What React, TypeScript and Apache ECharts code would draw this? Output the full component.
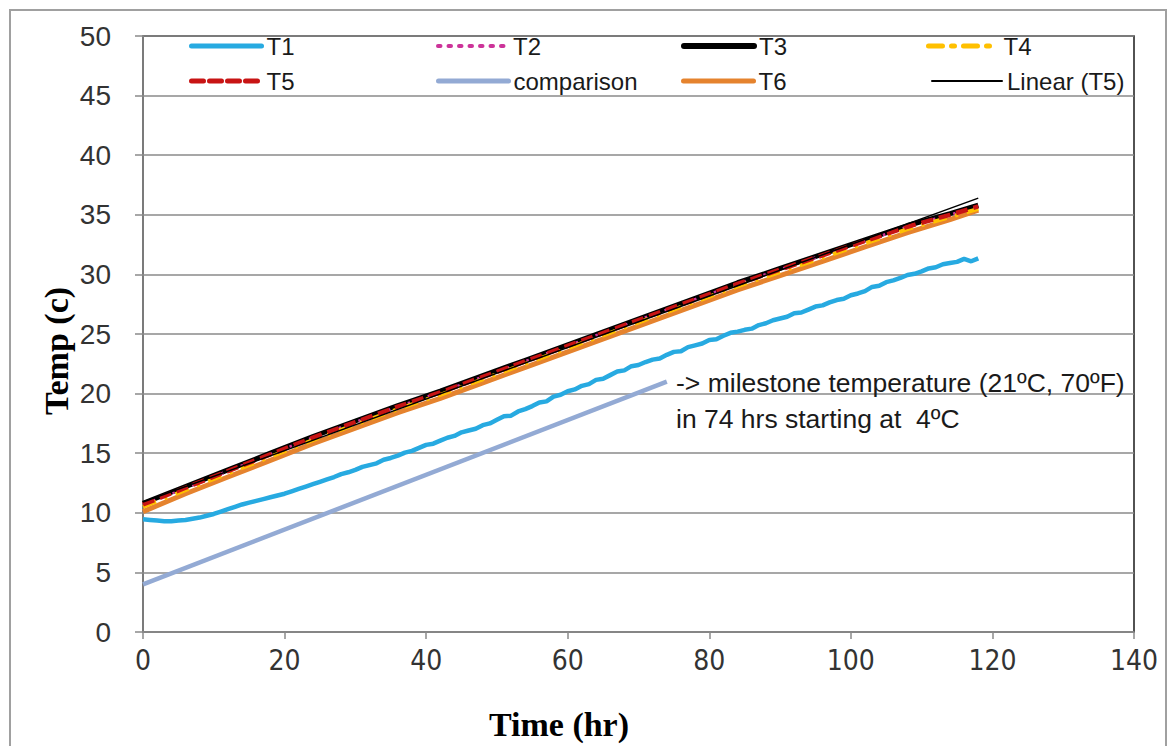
import React, { useEffect, useRef } from "react";
import * as echarts from "echarts";

// ---- Data ----
const X_TICKS = [0, 20, 40, 60, 80, 100, 120, 140];
const Y_TICKS = [0, 5, 10, 15, 20, 25, 30, 35, 40, 45, 50];

// T1: hourly readings, hour 0..118
const T1_VALUES = [
  9.45, 9.4, 9.35, 9.3, 9.3, 9.35, 9.4, 9.5, 9.6, 9.75,
  9.9, 10.1, 10.3, 10.5, 10.7, 10.85, 11.0, 11.15, 11.3, 11.45,
  11.6, 11.8, 12.0, 12.2, 12.4, 12.6, 12.8, 13.0, 13.25, 13.4,
  13.6, 13.85, 14.0, 14.15, 14.45, 14.6, 14.8, 15.05, 15.2, 15.45,
  15.7, 15.8, 16.05, 16.3, 16.45, 16.75, 16.9, 17.05, 17.35, 17.5,
  17.8, 18.1, 18.15, 18.5, 18.7, 18.95, 19.25, 19.35, 19.75, 19.9,
  20.2, 20.35, 20.65, 20.8, 21.15, 21.25, 21.55, 21.85, 21.95, 22.3,
  22.4, 22.65, 22.85, 22.95, 23.25, 23.5, 23.55, 23.9, 24.05, 24.2,
  24.5, 24.55, 24.85, 25.1, 25.2, 25.35, 25.45, 25.75, 25.9, 26.15,
  26.3, 26.45, 26.75, 26.8, 27.05, 27.3, 27.4, 27.65, 27.85, 27.95,
  28.25, 28.4, 28.6, 28.95, 29.05, 29.35, 29.5, 29.7, 29.95, 30.05,
  30.25, 30.5, 30.6, 30.85, 30.95, 31.05, 31.3, 31.1, 31.35,
];

// Other sensors sampled every 6 hours (last at 118 h)
const HOURS_6 = [0, 6, 12, 18, 24, 30, 36, 42, 48, 54, 60, 66, 72, 78, 84, 90, 96, 102, 108, 114, 118];
const T2_VALUES = [10.7, 12.1, 13.5, 14.9, 16.3, 17.6, 18.9, 20.1, 21.4, 22.7, 24.0, 25.3, 26.6, 27.9, 29.2, 30.4, 31.6, 32.8, 34.0, 35.0, 35.7];
const T3_VALUES = [10.8, 12.2, 13.6, 15.0, 16.4, 17.7, 19.0, 20.2, 21.5, 22.8, 24.1, 25.4, 26.7, 28.0, 29.3, 30.5, 31.7, 32.9, 34.1, 35.1, 35.8];
const T4_VALUES = [10.5, 11.9, 13.3, 14.7, 16.1, 17.4, 18.7, 19.9, 21.2, 22.5, 23.8, 25.1, 26.4, 27.7, 29.0, 30.2, 31.4, 32.6, 33.8, 34.8, 35.5];
const T5_VALUES = [10.7, 12.1, 13.5, 14.9, 16.3, 17.6, 18.9, 20.1, 21.4, 22.7, 24.0, 25.3, 26.6, 27.9, 29.2, 30.4, 31.6, 32.8, 34.0, 35.0, 35.7];
const T6_VALUES = [10.1, 11.6, 13.0, 14.4, 15.8, 17.1, 18.4, 19.6, 20.9, 22.2, 23.5, 24.8, 26.1, 27.4, 28.7, 29.9, 31.1, 32.3, 33.5, 34.6, 35.4];

const COMPARISON = [
  [0, 4],
  [74, 21],
];
const LINEAR_T5 = [
  [0, 10.9],
  [118, 36.4],
];

const pair = (xs: number[], ys: number[]) => xs.map((x, i) => [x, ys[i]]);
const hourly = (ys: number[]) => ys.map((y, i) => [i, y]);

export default function App() {
  const ref = useRef<HTMLDivElement>(null);

  useEffect(() => {
    if (!ref.current) return;
    const chart = echarts.init(ref.current, undefined, { renderer: "svg" });

    const legendText = {
      fontSize: 24,
      fontFamily: "Liberation Sans, Arial, sans-serif",
      color: "#1a1a1a",
    };
    const mkLegend = (name: string, left: number, top: number, width: number) => ({
      data: [name],
      left,
      top,
      orient: "horizontal",
      padding: 0,
      itemWidth: 70,
      itemHeight: 14,
      textStyle: legendText,
      selectedMode: false,
      itemStyle: { opacity: 0, borderWidth: 0 },
      lineStyle: { width, cap: "round" },
    });

    const titleFont = "bold 34px 'Liberation Serif', 'Times New Roman', serif";

    const option: any = {
      animation: false,
      backgroundColor: "#ffffff",
      grid: {
        left: 143,
        right: 35,
        top: 36,
        bottom: 114,
        show: true,
        borderColor: "#1a1a1a",
        borderWidth: 1.5,
        backgroundColor: "#ffffff",
      },
      legend: [
        mkLegend("T1", 189, 34, 5),
        mkLegend("T2", 436, 34, 4),
        mkLegend("T3", 681, 34, 6),
        mkLegend("T4", 926, 34, 5),
        mkLegend("T5", 189, 69, 5),
        mkLegend("comparison", 436, 69, 5),
        mkLegend("T6", 681, 69, 5),
        mkLegend("Linear (T5)", 931, 69, 2),
      ],
      xAxis: {
        type: "value",
        min: X_TICKS[0],
        max: X_TICKS[X_TICKS.length - 1],
        interval: 20,
        axisLine: { show: true, lineStyle: { color: "#8a8a8a", width: 1.5 } },
        axisTick: { show: true, length: 7, lineStyle: { color: "#8a8a8a", width: 1.5 } },
        splitLine: { show: false },
        axisLabel: {
          margin: 14,
          fontSize: 28,
          fontFamily: "Liberation Sans Narrow, DejaVu Sans Condensed, sans-serif",
          color: "#333",
        },
      },
      yAxis: {
        type: "value",
        min: Y_TICKS[0],
        max: Y_TICKS[Y_TICKS.length - 1],
        interval: 5,
        axisLine: { show: true, lineStyle: { color: "#8a8a8a", width: 1.5 } },
        axisTick: { show: true, length: 8, lineStyle: { color: "#8a8a8a", width: 1.5 } },
        splitLine: { show: true, lineStyle: { color: "#8a8a8a", width: 1.5 } },
        axisLabel: {
          margin: 32,
          fontSize: 28,
          fontFamily: "Liberation Sans, Arial, sans-serif",
          color: "#333",
        },
      },
      series: [
        {
          name: "comparison",
          type: "line",
          data: COMPARISON,
          symbol: "none",
          z: 2,
          lineStyle: { color: "#93aad4", width: 4.5 },
          itemStyle: { color: "#93aad4" },
        },
        {
          name: "T1",
          type: "line",
          data: hourly(T1_VALUES),
          symbol: "none",
          z: 3,
          lineStyle: { color: "#27aae1", width: 4.5 },
          itemStyle: { color: "#27aae1" },
        },
        {
          name: "T6",
          type: "line",
          data: pair(HOURS_6, T6_VALUES),
          symbol: "none",
          z: 4,
          lineStyle: { color: "#e5832e", width: 5 },
          itemStyle: { color: "#e5832e" },
        },
        {
          name: "T3",
          type: "line",
          data: pair(HOURS_6, T3_VALUES),
          symbol: "none",
          z: 5,
          lineStyle: { color: "#000000", width: 5 },
          itemStyle: { color: "#000000" },
        },
        {
          name: "T2",
          type: "line",
          data: pair(HOURS_6, T2_VALUES),
          symbol: "none",
          z: 6,
          lineStyle: { color: "#cc3399", width: 3, type: [2.5, 8] },
          itemStyle: { color: "#cc3399" },
        },
        {
          name: "T4",
          type: "line",
          data: pair(HOURS_6, T4_VALUES),
          symbol: "none",
          z: 7,
          lineStyle: { color: "#ffc000", width: 4, type: [14, 9, 3, 9] },
          itemStyle: { color: "#ffc000" },
        },
        {
          name: "T5",
          type: "line",
          data: pair(HOURS_6, T5_VALUES),
          symbol: "none",
          z: 8,
          lineStyle: { color: "#c81414", width: 4.5, type: [12, 6] },
          itemStyle: { color: "#c81414" },
        },
        {
          name: "Linear (T5)",
          type: "line",
          data: LINEAR_T5,
          symbol: "none",
          z: 9,
          lineStyle: { color: "#000000", width: 1.5 },
          itemStyle: { color: "#000000" },
        },
      ],
      graphic: [
        {
          type: "rect",
          shape: { x: 10, y: 10, width: 1156, height: 760 },
          style: { fill: "none", stroke: "#a0a0a0", lineWidth: 2 },
          silent: true,
          z: -10,
        },
        {
          type: "text",
          x: 559,
          y: 724,
          style: {
            text: "Time (hr)",
            font: titleFont,
            fill: "#000",
            align: "center",
            verticalAlign: "middle",
          },
          z: 20,
        },
        {
          type: "text",
          x: 56,
          y: 351,
          rotation: Math.PI / 2,
          style: {
            text: "Temp (c)",
            font: titleFont,
            fill: "#000",
            align: "center",
            verticalAlign: "middle",
          },
          z: 20,
        },
        {
          type: "text",
          x: 676,
          y: 383,
          style: {
            text: "-> milestone temperature (21ºC, 70ºF)",
            font: "26.5px 'Liberation Sans', Arial, sans-serif",
            fill: "#1a1a1a",
            verticalAlign: "middle",
          },
          z: 20,
        },
        {
          type: "text",
          x: 676,
          y: 419,
          style: {
            text: "in 74 hrs starting at  4ºC",
            font: "26.5px 'Liberation Sans', Arial, sans-serif",
            fill: "#1a1a1a",
            verticalAlign: "middle",
          },
          z: 20,
        },
      ],
    };

    chart.setOption(option);
    return () => chart.dispose();
  }, []);

  return (
    <div
      ref={ref}
      style={{ position: "fixed", left: 0, top: 0, width: 1169, height: 746, background: "#fff" }}
    />
  );
}
